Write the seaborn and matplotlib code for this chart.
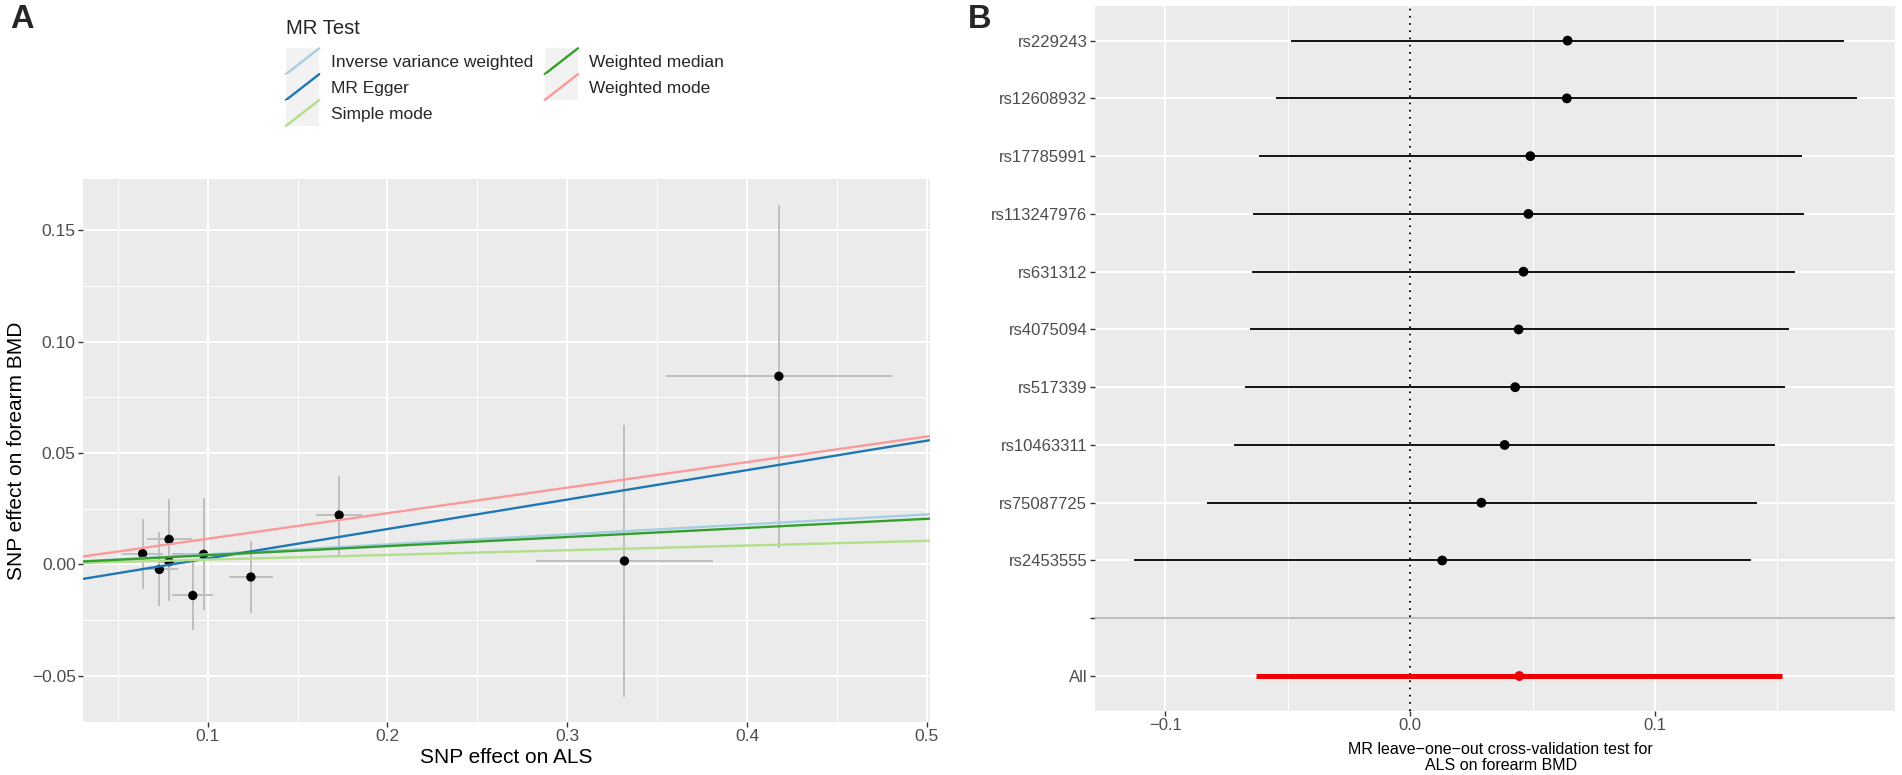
import numpy as np
import pandas as pd
import matplotlib
matplotlib.use("Agg")
import matplotlib.pyplot as plt
import seaborn as sns
from matplotlib.legend_handler import HandlerBase
from matplotlib.patches import Rectangle
from matplotlib.lines import Line2D
from matplotlib.ticker import FixedLocator

# ---- Panel A: SNP effects on ALS (x) vs forearm BMD (y)
snp_bx = [0.0638, 0.0731, 0.0785, 0.0785, 0.0977, 0.0917, 0.1240, 0.1731, 0.3318, 0.4177]
snp_by = [0.0048, -0.0023, 0.0112, 0.0012, 0.0045, -0.0140, -0.0057, 0.0221, 0.0015, 0.0845]
snp_se_x = [0.0112, 0.0105, 0.0125, 0.0060, 0.0178, 0.0115, 0.0122, 0.0127, 0.0490, 0.0627]
snp_se_y = [0.0157, 0.0166, 0.0180, 0.0176, 0.0252, 0.0153, 0.0163, 0.0178, 0.0612, 0.0770]

methods = ["Inverse variance weighted", "MR Egger", "Simple mode",
           "Weighted median", "Weighted mode"]
method_slope = [0.0448, 0.1323, 0.0211, 0.0409, 0.1148]
method_intercept = [0.0, -0.0106, 0.0, 0.0, 0.0]
method_colors = ["#A6CEE3", "#1F78B4", "#B2DF8A", "#33A02C", "#FB9A99"]

a_xticks = [0.1, 0.2, 0.3, 0.4, 0.5]
a_xtick_labels = ["0.1", "0.2", "0.3", "0.4", "0.5"]
a_yticks = [-0.05, 0.0, 0.05, 0.10, 0.15]
a_ytick_labels = ["\u22120.05", "0.00", "0.05", "0.10", "0.15"]

# ---- Panel B: leave-one-out estimates
loo_snps = ["rs229243", "rs12608932", "rs17785991", "rs113247976", "rs631312",
            "rs4075094", "rs517339", "rs10463311", "rs75087725", "rs2453555"]
loo_b = [0.0643, 0.0640, 0.0491, 0.0483, 0.0463, 0.0443, 0.0429, 0.0386, 0.0291, 0.0131]
loo_lo = [-0.0488, -0.0548, -0.0617, -0.0643, -0.0646, -0.0654, -0.0674, -0.0720, -0.0831, -0.1129]
loo_hi = [0.1771, 0.1826, 0.1600, 0.1609, 0.1571, 0.1546, 0.1531, 0.1491, 0.1417, 0.1391]
all_b, all_lo, all_hi = 0.0446, -0.0629, 0.1520

b_xticks = [-0.1, 0.0, 0.1]
b_xtick_labels = ["\u22120.1", "0.0", "0.1"]


class DiagKey(HandlerBase):
    # ggplot-style abline key: grey square with a diagonal line
    def create_artists(self, legend, orig_handle, xdescent, ydescent,
                       width, height, fontsize, trans):
        bg = Rectangle((-xdescent, -ydescent), width, height,
                       facecolor="#F2F2F2", edgecolor="none", transform=trans)
        ln = Line2D([-xdescent, -xdescent + width], [-ydescent, -ydescent + height],
                    color=orig_handle.get_color(), lw=orig_handle.get_linewidth(),
                    transform=trans)
        return [bg, ln]


sns.set_theme(style="darkgrid", rc={"axes.facecolor": "#EBEBEB",
                                    "grid.color": "white",
                                    "figure.facecolor": "white"})
plt.rcParams['font.family'] = ['Liberation Sans', 'DejaVu Sans']

fig = plt.figure(figsize=(19.02, 7.75), dpi=100)
axA = fig.add_axes([0.0438, 0.0688, 0.4452, 0.7002])
axB = fig.add_axes([0.5757, 0.0830, 0.4206, 0.9093])


def style_axes(ax, tick_size):
    for s in ax.spines.values():
        s.set_visible(False)
    ax.tick_params(which="major", bottom=True, left=True, length=3.5, width=1.0,
                   color="#333333", labelcolor="#4D4D4D", labelsize=tick_size, pad=2)
    ax.tick_params(which="minor", bottom=False, left=False, length=0)
    ax.grid(which="major", color="white", lw=1.4)
    ax.grid(which="minor", color="white", lw=0.7)
    ax.set_axisbelow(True)


# ---- panel A
dfA = pd.DataFrame({"bx": snp_bx, "by": snp_by, "se_x": snp_se_x, "se_y": snp_se_y})
axA.errorbar(dfA["bx"], dfA["by"], xerr=dfA["se_x"], yerr=dfA["se_y"], fmt="none",
             ecolor="#BEBEBE", elinewidth=1.4, capsize=0, zorder=2)
sns.scatterplot(data=dfA, x="bx", y="by", color="black", s=45, edgecolor="none",
                ax=axA, zorder=3, legend=False)
handles = []
for name, b, a, c in zip(methods, method_slope, method_intercept, method_colors):
    h = axA.axline((0, a), slope=b, color=c, lw=1.7, zorder=4, label=name)
    handles.append(h)

axA.set_xlim(0.0308, 0.5018)
axA.set_ylim(-0.0707, 0.1731)
axA.xaxis.set_major_locator(FixedLocator(a_xticks))
axA.set_xticklabels(a_xtick_labels)
axA.yaxis.set_major_locator(FixedLocator(a_yticks))
axA.set_yticklabels(a_ytick_labels)
axA.xaxis.set_minor_locator(FixedLocator([0.05, 0.15, 0.25, 0.35, 0.45]))
axA.yaxis.set_minor_locator(FixedLocator([-0.025, 0.025, 0.075, 0.125]))
style_axes(axA, 12.5)
axA.set_xlabel("SNP effect on ALS", fontsize=15, color="black", va="top")
axA.set_ylabel("SNP effect on forearm BMD", fontsize=15, color="black")
axA.xaxis.set_label_coords(0.5, -0.049)
axA.yaxis.set_label_coords(-0.068, 0.5)

fig.text(286 / 1902, 1 - 28.5 / 775, "MR Test", fontsize=14.6, va="center", ha="left")
fig.legend(handles, methods, handler_map={Line2D: DiagKey()},
           loc="upper left", bbox_to_anchor=(286 / 1902, 1 - 48.3 / 775),
           ncol=2, frameon=False, fontsize=12.5, borderpad=0, borderaxespad=0,
           handlelength=1.915, handleheight=1.915, labelspacing=0,
           handletextpad=0.655, columnspacing=0.68)

# ---- panel B
n = len(loo_snps)
dfB = pd.DataFrame({"snp": loo_snps, "b": loo_b, "lo": loo_lo, "hi": loo_hi})
dfB["pos"] = np.arange(n + 2, 2, -1)
dfAll = pd.DataFrame({"snp": ["All"], "b": [all_b], "lo": [all_lo], "hi": [all_hi], "pos": [1]})

axB.axhline(2, color="#BEBEBE", lw=1.5, zorder=1.5)
axB.axvline(0, color="black", lw=1.3, ls=(0, (1, 3)), zorder=1.6)
axB.hlines(dfB["pos"], dfB["lo"], dfB["hi"], color="black", lw=1.3, zorder=2)
axB.hlines(dfAll["pos"], dfAll["lo"], dfAll["hi"], color="#EE0000", lw=3.6, zorder=2)
sns.scatterplot(data=dfB, x="b", y="pos", color="black", s=50, edgecolor="none",
                ax=axB, zorder=3, legend=False)
sns.scatterplot(data=dfAll, x="b", y="pos", color="#EE0000", s=50, edgecolor="none",
                ax=axB, zorder=3, legend=False)

axB.set_xlim(-0.1287, 0.198)
axB.set_ylim(0.4, n + 2.6)
axB.xaxis.set_major_locator(FixedLocator(b_xticks))
axB.set_xticklabels(b_xtick_labels)
axB.xaxis.set_minor_locator(FixedLocator([-0.05, 0.05, 0.15]))
ypos = [1, 2] + list(dfB["pos"][::-1])
ylabels = ["All", ""] + list(dfB["snp"][::-1])
axB.yaxis.set_major_locator(FixedLocator(ypos))
axB.set_yticklabels(ylabels)
style_axes(axB, 12)
axB.set_xlabel("MR leave\u2212one\u2212out cross-validation test for\nALS on forearm BMD",
               fontsize=11.5, color="black", va="top", linespacing=1.1)
axB.set_ylabel("")
axB.xaxis.set_label_coords(0.507, -0.044)

fig.text(10 / 1902, 1 - 4 / 775, "A", fontsize=23.5, fontweight="bold", va="top", ha="left")
fig.text(968 / 1902, 1 - 4 / 775, "B", fontsize=23.5, fontweight="bold", va="top", ha="left")

fig.savefig("out.png", dpi=100)
